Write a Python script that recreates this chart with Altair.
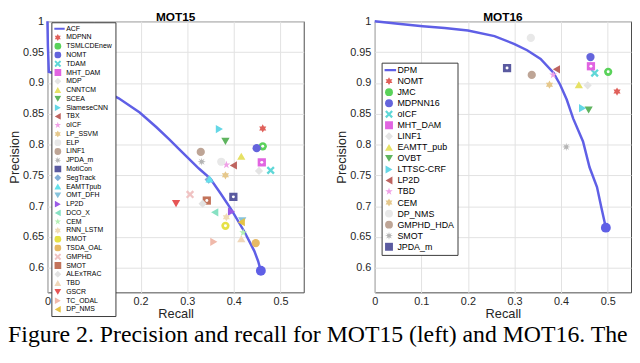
import altair as alt
import pandas as pd

# ---------------- data ----------------
mot15_methods = ["MDPNN", "TSMLCDEnew", "NOMT", "TDAM", "MHT_DAM", "MDP", "CNNTCM", "SCEA",
                 "SiameseCNN", "TBX", "oICF", "LP_SSVM", "ELP", "LINF1", "JPDA_m", "MotiCon",
                 "SegTrack", "EAMTTpub", "OMT_DFH", "LP2D", "DCO_X", "CEM", "RNN_LSTM", "RMOT",
                 "TSDA_OAL", "GMPHD", "SMOT", "ALExTRAC", "TBD", "GSCR", "TC_ODAL", "DP_NMS"]
mot15_recall = [0.462, 0.462, 0.449, 0.479, 0.460, 0.454, 0.416, 0.382,
                0.369, 0.399, 0.384, 0.382, 0.373, 0.329, 0.331, 0.399,
                0.346, 0.348, 0.418, 0.395, 0.359, 0.420, 0.384, 0.382,
                0.447, 0.306, 0.342, 0.333, 0.416, 0.276, 0.357, 0.416]
mot15_precision = [0.826, 0.797, 0.794, 0.758, 0.771, 0.757, 0.781, 0.805,
                   0.825, 0.766, 0.767, 0.750, 0.772, 0.788, 0.772, 0.715,
                   0.743, 0.744, 0.676, 0.691, 0.690, 0.657, 0.682, 0.668,
                   0.640, 0.719, 0.709, 0.704, 0.647, 0.704, 0.642, 0.674]
mot15_hollow = ["TSMLCDEnew", "MHT_DAM", "MotiCon", "RMOT", "SMOT"]

acf_recall = [0.000, 0.001, 0.003, 0.030, 0.080, 0.120, 0.153, 0.198, 0.234, 0.262,
              0.283, 0.325, 0.349, 0.372, 0.395, 0.423, 0.444, 0.452, 0.458]
acf_precision = [1.000, 0.960, 0.918, 0.912, 0.900, 0.888, 0.875, 0.852, 0.828, 0.808,
                 0.792, 0.761, 0.745, 0.720, 0.694, 0.658, 0.627, 0.611, 0.595]

mot16_methods = ["NOMT", "JMC", "MDPNN16", "oICF", "MHT_DAM", "LINF1", "EAMTT_pub", "OVBT",
                 "LTTSC-CRF", "LP2D", "TBD", "CEM", "DP_NMS", "GMPHD_HDA", "SMOT", "JPDA_m"]
mot16_recall = [0.520, 0.501, 0.463, 0.472, 0.464, 0.457, 0.438, 0.459,
                0.446, 0.390, 0.383, 0.375, 0.335, 0.337, 0.411, 0.284]
mot16_precision = [0.886, 0.918, 0.942, 0.916, 0.927, 0.896, 0.897, 0.856,
                   0.859, 0.922, 0.913, 0.897, 0.973, 0.913, 0.796, 0.924]
mot16_hollow = ["JMC", "MHT_DAM", "JPDA_m"]

dpm_recall = [0.000, 0.050, 0.103, 0.150, 0.200, 0.257, 0.300, 0.327, 0.356, 0.384,
              0.398, 0.412, 0.426, 0.447, 0.461, 0.477, 0.486, 0.496]
dpm_precision = [1.000, 0.996, 0.992, 0.989, 0.985, 0.976, 0.963, 0.953, 0.939, 0.916,
                 0.897, 0.873, 0.842, 0.805, 0.763, 0.731, 0.699, 0.665]

x_ticks = [0, 0.1, 0.2, 0.3, 0.4, 0.5]
y_ticks = [0.6, 0.65, 0.7, 0.75, 0.8, 0.85, 0.9, 0.95, 1.0]

caption = "Figure 2. Precision and recall for MOT15 (left) and MOT16. The"

# ---------------- styles ----------------
CURVE = "#5f5fe6"
palette = ["#e0605a", "#5ad25a", "#6464dc", "#5fd7d7", "#e164e1", "#e4e4e4", "#e6e164", "#5fb45f",
           "#64d7e6", "#be6460", "#f0a0e6", "#e6c88c", "#e8e8e8", "#bea596", "#b4b4b4", "#5a5aa0",
           "#82afd7", "#64e1eb", "#87c3dc", "#9b5ae6", "#87e1c3", "#b4f0b4", "#f0dcb4", "#e6e146",
           "#e6b964", "#f0c3c3", "#c3735a", "#e2e2e2", "#f0d7b9", "#e65555", "#f0b9aa", "#e6c346"]

HEXAGRAM = "M0,-1L0.289,-0.5L0.866,-0.5L0.577,0L0.866,0.5L0.289,0.5L0,1L-0.289,0.5L-0.866,0.5L-0.577,0L-0.866,-0.5L-0.289,-0.5Z"
PENTAGRAM = "M0,-1L0.225,-0.309L0.951,-0.309L0.363,0.118L0.588,0.809L0,0.382L-0.588,0.809L-0.363,0.118L-0.951,-0.309L-0.225,-0.309Z"
XMARK = "M-1,-0.6L-0.6,-1L0,-0.4L0.6,-1L1,-0.6L0.4,0L1,0.6L0.6,1L0,0.4L-0.6,1L-1,0.6L-0.4,0Z"
ASTER = "M0,-1L0.153,-0.37L0.707,-0.707L0.37,-0.153L1,0L0.37,0.153L0.707,0.707L0.153,0.37L0,1L-0.153,0.37L-0.707,0.707L-0.37,0.153L-1,0L-0.37,-0.153L-0.707,-0.707L-0.153,-0.37Z"

marker_shapes = [HEXAGRAM, "circle", "circle", XMARK, "square", "diamond", "triangle-up", "triangle-down",
                 "triangle-right", "triangle-left", PENTAGRAM, HEXAGRAM, "circle", "circle", ASTER, "square",
                 "diamond", "triangle-up", "triangle-down", "triangle-right", "triangle-left", PENTAGRAM, HEXAGRAM, "circle",
                 "circle", XMARK, "square", "diamond", "triangle-up", "triangle-down", "triangle-right", "triangle-left"]

FONT = "Liberation Sans"


def panel(title, methods, rec, prec, hollow, curve_name, crec, cprec,
          lx, ly, lfont, lsym, lclip, lrow, lpad, loff, line_half):
    names = [curve_name] + methods
    line_path = "M-{h},-0.28L{h},-0.28L{h},0.28L-{h},0.28Z".format(h=line_half)
    colors = [CURVE] + palette[:len(methods)]
    shapes = [line_path] + marker_shapes[:len(methods)]

    pts = pd.DataFrame({"method": methods, "recall": rec, "precision": prec})
    cur = pd.DataFrame({"i": list(range(len(crec))), "recall": crec, "precision": cprec})

    xenc = alt.X("recall:Q", scale=alt.Scale(domain=[0, 0.55], nice=False, zero=False),
                 axis=alt.Axis(values=x_ticks, format="~g", title="Recall", labelFlush=False,
                               labelPadding=3, titlePadding=1, grid=True, tickCount=6))
    yenc = alt.Y("precision:Q", scale=alt.Scale(domain=[0.56, 1.0], nice=False, zero=False),
                 axis=alt.Axis(values=y_ticks, format="~g", title="Precision", labelFlush=False,
                               labelPadding=4, titlePadding=1, grid=True, tickCount=9))

    leg = alt.Legend(orient="none", legendX=lx, legendY=ly, title=None, direction="vertical", columns=1,
                     labelFont=FONT, labelFontSize=lfont, labelColor="black", labelLimit=300,
                     symbolSize=lsym, clipHeight=lclip, rowPadding=lrow, padding=lpad, labelOffset=loff,
                     symbolLimit=60, fillColor="white", strokeColor="#3a3a3a",
                     symbolStrokeWidth=0, symbolOpacity=1)

    line = alt.Chart(cur).mark_line(color=CURVE, strokeWidth=2.5).encode(
        x=xenc, y=yenc, order=alt.Order("i:Q"))
    end = alt.Chart(cur).transform_filter(
        alt.datum.i == len(crec) - 1
    ).mark_circle(color=CURVE, size=100, opacity=1).encode(x=xenc, y=yenc)
    points = alt.Chart(pts).mark_point(filled=True, opacity=1, size=70, strokeWidth=0).encode(
        x=xenc, y=yenc,
        color=alt.Color("method:N", scale=alt.Scale(domain=names, range=colors), legend=leg, sort=names),
        shape=alt.Shape("method:N", scale=alt.Scale(domain=names, range=shapes), legend=leg, sort=names),
    )
    holes = alt.Chart(pts).transform_filter(
        alt.FieldOneOfPredicate(field="method", oneOf=hollow)
    ).mark_point(filled=True, color="white", size=9, opacity=1, shape="circle").encode(x=xenc, y=yenc)

    return alt.layer(line, end, points, holes).properties(
        width=260, height=275,
        title=alt.TitleParams(title, font=FONT, fontSize=12, fontWeight="bold", color="black",
                              offset=-9, anchor="middle"))


left = panel("MOT15", mot15_methods, mot15_recall, mot15_precision, mot15_hollow, "ACF",
             acf_recall, acf_precision, lx=4, ly=1, lfont=7, lsym=49, lclip=7, lrow=0.9, lpad=3, loff=5,
             line_half=2.0)
right = panel("MOT16", mot16_methods, mot16_recall, mot16_precision, mot16_hollow, "DPM",
              dpm_recall, dpm_precision, lx=7, ly=42, lfont=9, lsym=64, lclip=9, lrow=1.2, lpad=3, loff=4,
              line_half=1.8)

chart = alt.hconcat(left, right, spacing=31).resolve_scale(
    color="independent", shape="independent", x="independent", y="independent"
).resolve_legend(
    color="independent", shape="independent"
).properties(
    padding={"left": 0, "top": 0, "right": 0, "bottom": 0},
    title=alt.TitleParams(caption, orient="bottom", anchor="start", font="Liberation Serif",
                          fontSize=24.1, fontWeight="normal", color="black", offset=3),
).configure_view(
    stroke="#4a4a4a", strokeWidth=1
).configure_axis(
    labelFont=FONT, labelFontSize=11, labelColor="#262626",
    titleFont=FONT, titleFontSize=13, titleFontWeight="normal", titleColor="#262626",
    gridColor="#e2e2e2", gridWidth=1, domain=False, ticks=False, labelOverlap=False
)

chart.save("out.html", embed_options={"renderer": "svg", "actions": False})
